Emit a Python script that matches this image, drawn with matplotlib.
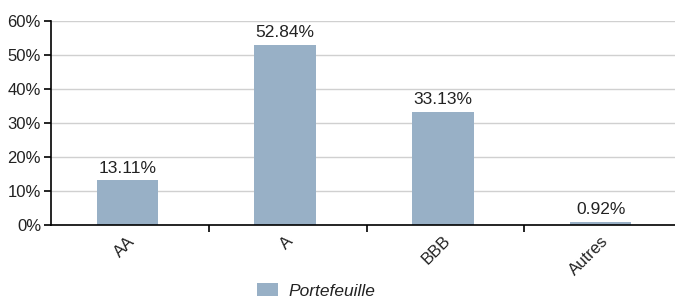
import matplotlib
matplotlib.use('Agg')
import matplotlib.pyplot as plt
import matplotlib.patches as mpatches
from matplotlib.ticker import FixedLocator, PercentFormatter

categories = ['AA', 'A', 'BBB', 'Autres']
values = [13.11, 52.84, 33.13, 0.92]
yticks = [0, 10, 20, 30, 40, 50, 60]

bar_color = '#98b0c6'
text_color = '#222222'

plt.rcParams['font.family'] = ['Liberation Sans', 'DejaVu Sans']

W, H = 675, 302
fig = plt.figure(figsize=(W / 100, H / 100), dpi=100)
# axes spans beyond the right edge, as in the original
ax = fig.add_axes([51 / W, 1 - 225 / H, (679 - 51) / W, (225 - 21) / H])

x = range(len(categories))
ax.bar(x, values, width=0.39, color=bar_color, zorder=2)

for xi, v in zip(x, values):
    ax.annotate('{:.2f}%'.format(v), (xi, v), xytext=(0, 3.5), textcoords='offset points',
                ha='center', va='bottom', fontsize=12.5, color=text_color)

ax.set_xlim(-0.485, 3.497)
ax.set_ylim(0, 60)
ax.set_yticks(yticks)
ax.yaxis.set_major_formatter(PercentFormatter(decimals=0))
ax.grid(axis='y', color='#d0d0d0', linewidth=1, zorder=0)

# category labels at centers, ticks between categories
ax.set_xticks(list(x))
ax.set_xticklabels(categories, rotation=45, ha='right', rotation_mode='anchor',
                   fontsize=12, color=text_color)
ax.tick_params(axis='x', length=0, pad=6)
ax.xaxis.set_minor_locator(FixedLocator([0.517, 1.517, 2.517]))
ax.tick_params(axis='x', which='minor', length=5, width=1.2, color='black')
ax.tick_params(axis='y', length=5, width=1.2, labelsize=12, labelcolor=text_color, pad=2.2)

for s in ['top', 'right']:
    ax.spines[s].set_visible(False)
for s in ['left', 'bottom']:
    ax.spines[s].set_linewidth(1.2)
    ax.spines[s].set_zorder(3)

handle = mpatches.Rectangle((0, 0), 1, 1, facecolor=bar_color, edgecolor='none')
fig.legend([handle], ['Portefeuille'], loc='center left',
           bbox_to_anchor=(257 / W, 1 - 291 / H), frameon=False,
           prop={'style': 'italic', 'size': 12.5}, handlelength=1.2, handleheight=0.8,
           handletextpad=0.62, labelcolor=text_color, borderpad=0, borderaxespad=0)

fig.savefig('out.png', dpi=100)
